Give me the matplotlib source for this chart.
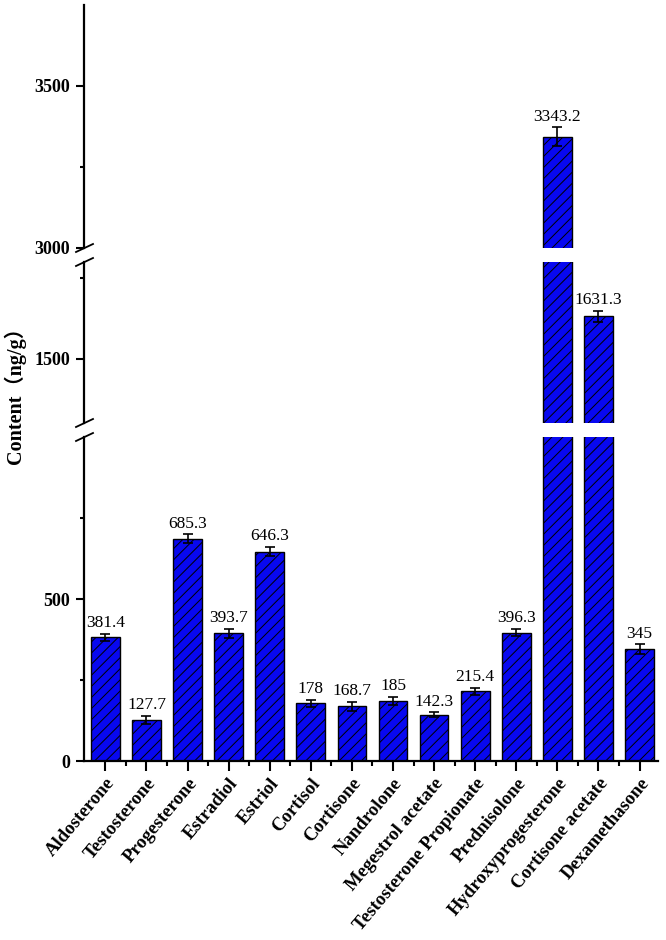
import numpy as np
import matplotlib
matplotlib.use("Agg")
import matplotlib.pyplot as plt
from matplotlib.ticker import FixedLocator

# dados
hormonios = ["Aldosterone", "Testosterone", "Progesterone", "Estradiol", "Estriol",
             "Cortisol", "Cortisone", "Nandrolone", "Megestrol acetate",
             "Testosterone Propionate", "Prednisolone", "Hydroxyprogesterone",
             "Cortisone acetate", "Dexamethasone"]
conteudo = [381.4, 127.7, 685.3, 393.7, 646.3, 178, 168.7, 185, 142.3,
            215.4, 396.3, 3343.2, 1631.3, 345]
erro = [10, 12, 14, 13, 14, 10, 13, 12, 8, 11, 11, 29, 18, 15]
rotulos = ["381.4", "127.7", "685.3", "393.7", "646.3", "178", "168.7", "185",
           "142.3", "215.4", "396.3", "3343.2", "1631.3", "345"]

# faixas do eixo quebrado (de baixo para cima) e seus ticks
faixas = [(0, 1000), (1300, 1800), (3000, 3750)]
ticks_maiores = [[0, 500], [1500], [3000, 3500]]
ticks_menores = [[250, 750], [1750], [3250]]

plt.rcParams['hatch.linewidth'] = 0.7
fonte = ['Liberation Serif', 'Noto Sans CJK SC']

fig = plt.figure(figsize=(6.66, 9.40), dpi=100)

x0, x1 = 84 / 666, 658 / 666
posicoes = [(761, 437), (423, 262), (248, 5)]
eixos = []
for (yb, yt) in posicoes:
    ax = fig.add_axes([x0, 1 - yb / 940, x1 - x0, (yb - yt) / 940])
    eixos.append(ax)

x = np.arange(len(hormonios))

for i, ax in enumerate(eixos):
    lo, hi = faixas[i]
    ax.bar(x, conteudo, width=0.7, color='#0808f0', edgecolor='black',
           linewidth=1.0, hatch='///')
    ax.errorbar(x, conteudo, yerr=erro, fmt='none', ecolor='black',
                elinewidth=1.2, capsize=3.5, capthick=1.2)
    ax.set_ylim(lo, hi)
    ax.set_xlim(-0.52, 13.45)
    for s in ['top', 'right']:
        ax.spines[s].set_visible(False)
    ax.spines['left'].set_linewidth(1.6)
    ax.yaxis.set_major_locator(FixedLocator(ticks_maiores[i]))
    ax.yaxis.set_minor_locator(FixedLocator(ticks_menores[i]))
    ax.tick_params(axis='y', which='major', length=6, width=1.5, pad=4)
    ax.tick_params(axis='y', which='minor', length=3, width=1.5)
    for lab in ax.get_yticklabels():
        lab.set_fontfamily(fonte)
        lab.set_fontweight('bold')
        lab.set_fontsize(13)
    if i > 0:
        ax.spines['bottom'].set_visible(False)
        ax.set_xticks([])
        ax.tick_params(axis='x', which='both', bottom=False, labelbottom=False)
    # rotulos de valor
    for j in range(len(conteudo)):
        topo = conteudo[j] + erro[j]
        if lo <= topo < hi:
            ax.annotate(rotulos[j], (x[j], topo), xytext=(0, 2),
                        textcoords='offset points', ha='center', va='bottom',
                        fontsize=12.5, family=fonte)

# eixo x (apenas no de baixo)
axb = eixos[0]
axb.spines['bottom'].set_linewidth(1.6)
axb.set_xticks(x)
axb.set_xticks(x[:-1] + 0.5, minor=True)
axb.set_xticklabels(hormonios, rotation=50, ha='right', rotation_mode='anchor',
                    fontsize=13.5, fontweight='bold', family=fonte)
axb.tick_params(axis='x', which='major', length=7, width=1.5, pad=3)
axb.tick_params(axis='x', which='minor', length=3.5, width=1.5)

# marcas de quebra no eixo y
for yb, yt in [(437, 423), (262, 248)]:
    for yy in [yb, yt]:
        fy = 1 - yy / 940
        fig.add_artist(plt.Line2D([x0 - 8 / 666, x0 + 9 / 666],
                                  [fy - 4 / 940, fy + 4 / 940],
                                  color='black', linewidth=1.3))

fig.text(0.023, 0.585, "Content（ng/g）", rotation=90, ha='center', va='center',
         fontsize=14.5, fontweight='bold', family=fonte)

fig.savefig("out.png", dpi=100)
